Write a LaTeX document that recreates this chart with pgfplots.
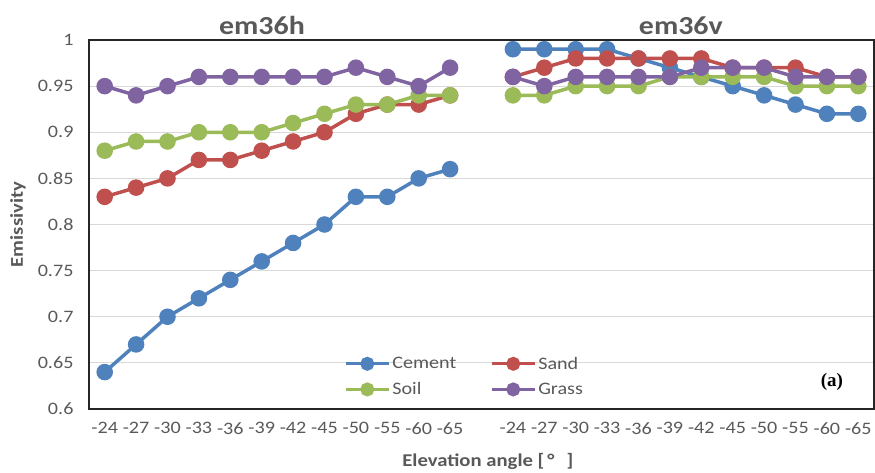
\documentclass[border=0pt]{standalone}
\usepackage{pgfplots}
\usepackage{pgfplotstable}
\usepackage{fontspec}
\pgfplotsset{compat=1.18}
\setmainfont{Carlito}[FakeStretch=1.15]
\newfontfamily\panelfont{Liberation Serif}

\definecolor{cemC}{HTML}{4F81BD}
\definecolor{sanC}{HTML}{C0504D}
\definecolor{soiC}{HTML}{9BBB59}
\definecolor{graC}{HTML}{8064A2}
\definecolor{txtC}{HTML}{595959}
\definecolor{grdC}{HTML}{D9D9D9}

% positions 0-11: em36h, 13-24: em36v (12 is the gap)
\pgfplotstableread{
x y
0 0.64
1 0.67
2 0.70
3 0.72
4 0.74
5 0.76
6 0.78
7 0.80
8 0.83
9 0.83
10 0.85
11 0.86
12 nan
13 0.99
14 0.99
15 0.99
16 0.99
17 0.98
18 0.97
19 0.96
20 0.95
21 0.94
22 0.93
23 0.92
24 0.92
}\cement

\pgfplotstableread{
x y
0 0.83
1 0.84
2 0.85
3 0.87
4 0.87
5 0.88
6 0.89
7 0.90
8 0.92
9 0.93
10 0.93
11 0.94
12 nan
13 0.96
14 0.97
15 0.98
16 0.98
17 0.98
18 0.98
19 0.98
20 0.97
21 0.97
22 0.97
23 0.96
24 0.96
}\sand

\pgfplotstableread{
x y
0 0.88
1 0.89
2 0.89
3 0.90
4 0.90
5 0.90
6 0.91
7 0.92
8 0.93
9 0.93
10 0.94
11 0.94
12 nan
13 0.94
14 0.94
15 0.95
16 0.95
17 0.95
18 0.96
19 0.96
20 0.96
21 0.96
22 0.95
23 0.95
24 0.95
}\soil

\pgfplotstableread{
x y
0 0.95
1 0.94
2 0.95
3 0.96
4 0.96
5 0.96
6 0.96
7 0.96
8 0.97
9 0.96
10 0.95
11 0.97
12 nan
13 0.96
14 0.95
15 0.96
16 0.96
17 0.96
18 0.96
19 0.97
20 0.97
21 0.97
22 0.96
23 0.96
24 0.96
}\grass

\begin{document}
\begin{tikzpicture}
\begin{axis}[
  scale only axis,
  width=785pt, height=369pt,
  xmin=-0.5, xmax=24.5,
  ymin=0.6, ymax=1,
  clip=false,
  unbounded coords=jump,
  axis line style={black!85, line width=1.4pt},
  xtick={0,1,2,3,4,5,6,7,8,9,10,11,13,14,15,16,17,18,19,20,21,22,23,24},
  xticklabels={-24,-27,-30,-33,-36,-39,-42,-45,-50,-55,-60,-65,
               -24,-27,-30,-33,-36,-39,-42,-45,-50,-55,-60,-65},
  ytick={0.6,0.65,...,1.01},
  major tick length=0pt,
  ymajorgrids,
  major grid style={grdC, line width=1pt},
  /pgf/number format/assume math mode=true,
  /pgf/number format/fixed,
  /pgf/number format/precision=2,
  tick label style={font=\fontsize{17.5}{20}\selectfont, text=txtC},
  yticklabel style={xshift=-12pt},
  xticklabel style={yshift=-10pt},
  every axis y label/.style={at={(axis description cs:-0.0904,0.5)}, rotate=90, anchor=center},
  every axis x label/.style={at={(axis description cs:0.508,-0.1545)}, anchor=base},
  label style={font=\bfseries\fontsize{18}{21}\selectfont, text=txtC},
  ylabel={Emissivity},
  xlabel={Elevation angle [\,°\hspace{12pt}]},
  every axis plot/.append style={line width=3.5pt, mark=*, mark size=6.5pt},
  legend columns=2,
  legend cell align=left,
  legend style={at={(axis description cs:0.325,0.147)}, anchor=north west,
    draw=none, fill=none, inner sep=0pt, row sep=8pt,
    font=\fontsize{17.5}{20}\selectfont, text=txtC,
    /tikz/every even column/.append style={column sep=32pt}},
  legend image code/.code={
    \draw[mark repeat=2, mark phase=2, mark size=5.5pt, line width=3pt]
      plot coordinates {(0pt,0pt) (21.5pt,0pt) (43pt,0pt)};},
]
\addplot[color=cemC] table[x=x, y=y] {\cement};
\addlegendentry{Cement}
\addplot[color=sanC] table[x=x, y=y] {\sand};
\addlegendentry{Sand}
\addplot[color=soiC] table[x=x, y=y] {\soil};
\addlegendentry{Soil}
\addplot[color=graC] table[x=x, y=y] {\grass};
\addlegendentry{Grass}

\node[anchor=base, text=txtC, font=\bfseries\fontsize{26}{30}\selectfont]
  at (axis cs:5.01,1) [yshift=6pt] {em36h};
\node[anchor=base, text=txtC, font=\bfseries\fontsize{26}{30}\selectfont]
  at (axis cs:18.35,1) [yshift=6pt] {em36v};
\node[font=\panelfont\bfseries\fontsize{19}{22}\selectfont]
  at (axis cs:23.16,0.629) {(a)};
\end{axis}
\pgfresetboundingbox
\useasboundingbox (-89pt,-63pt) rectangle (786pt,409pt);
\end{tikzpicture}
\end{document}
